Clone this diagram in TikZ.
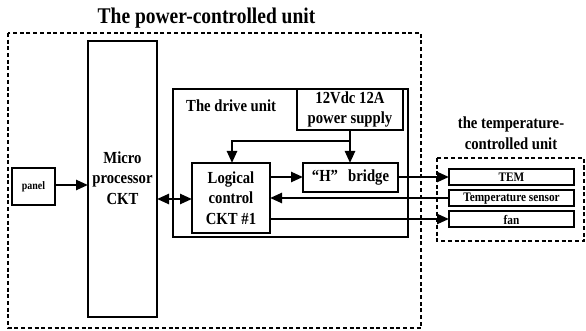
\documentclass[tikz,border=0pt]{standalone}
\usepackage{fontspec}
\setmainfont{Liberation Serif}[FakeStretch=0.87]
\usetikzlibrary{arrows.meta}
\tikzset{
  box/.style={draw, line width=2.4pt, inner sep=0pt},
  tbox/.style={draw, line width=2.2pt, inner sep=0pt},
  dbox/.style={draw, line width=2.2pt, dash pattern=on 4pt off 2.7pt},
  conn/.style={line width=2.4pt},
  arr/.style={conn, -{Triangle[length=12pt,width=10pt]}},
  darr/.style={conn, {Triangle[length=12pt,width=10pt]}-{Triangle[length=12pt,width=10pt]}},
  txt/.style={font=\fontsize{16.9}{20.5}\selectfont\bfseries, align=center, inner sep=0pt},
  stxt/.style={font=\fontsize{13}{15}\selectfont\bfseries, inner sep=0pt},
}
\begin{document}
\begin{tikzpicture}[x=1pt,y=-1pt]
\useasboundingbox (0,0) rectangle (586,331);
% title
\node[font=\fontsize{22.4}{26}\selectfont\bfseries, anchor=base, inner sep=0pt] (title) at (206.5,24) {The power-controlled unit};
% outer dashed box
\draw[dbox] (8,33) rectangle (421,328);
% panel
\draw[box] (12,168) rectangle (55,205);
\node[font=\fontsize{11.4}{13}\selectfont\bfseries, inner sep=0pt] (panel) at (33.5,186.5) {panel};
\coordinate (panelR) at (55,185);
% microprocessor
\draw[box] (88,41) rectangle (157,317);
\node[txt] (micro) at (122.5,178) {Micro\\processor\\CKT};
\coordinate (microL) at (88,185);
\coordinate (microR) at (157,199);
% drive unit
\draw[box] (173,89) rectangle (408,237);
\node[txt, anchor=west] (drive) at (186,106) {The drive unit};
% power supply
\draw[box] (297,89) rectangle (403,130);
\node[txt] (ps) at (350,109.5) {12Vdc 12A\\power supply};
\coordinate (psB) at (350,130);
\coordinate (junc) at (350,141);
\coordinate (jl) at (232,141);
% logical
\draw[box] (192,163) rectangle (270,233);
\node[txt] (logic) at (231,198) {Logical\\control\\CKT \#1};
\coordinate (logT) at (232,163);
\coordinate (logL) at (192,199);
% H bridge
\draw[box] (303,163) rectangle (398,192);
\node[txt] (hb) at (350.5,177.5) {“H”\hspace{0.6em}bridge};
\coordinate (hbT) at (350,163);
% temperature-controlled unit
\node[txt] (tlab) at (511,133) {the temperature-\\controlled unit};
\draw[dbox] (437,158) rectangle (584,241);
\draw[tbox] (449,169) rectangle (574,185);
\node[stxt] (tem) at (511.5,177.5) {TEM};
\draw[tbox] (449,190) rectangle (574,206);
\node[stxt] (sens) at (511.5,198.5) {Temperature sensor};
\draw[tbox] (449,211) rectangle (574,227);
\node[stxt] (fan) at (511.5,219.5) {fan};
% connectors
\draw[arr] (panelR) -- (microL);
\draw[darr] (microR) -- (logL);
\draw[conn] (psB) -- (junc);
\draw[arr] (junc) -- (jl) -- (logT);
\draw[arr] (junc) -- (hbT);
\draw[arr] (270,177) -- (303,177);
\draw[arr] (398,177) -- (449,177);
\draw[arr] (449,198) -- (270,198);
\draw[arr] (270,219) -- (449,219);
\end{tikzpicture}
\end{document}
